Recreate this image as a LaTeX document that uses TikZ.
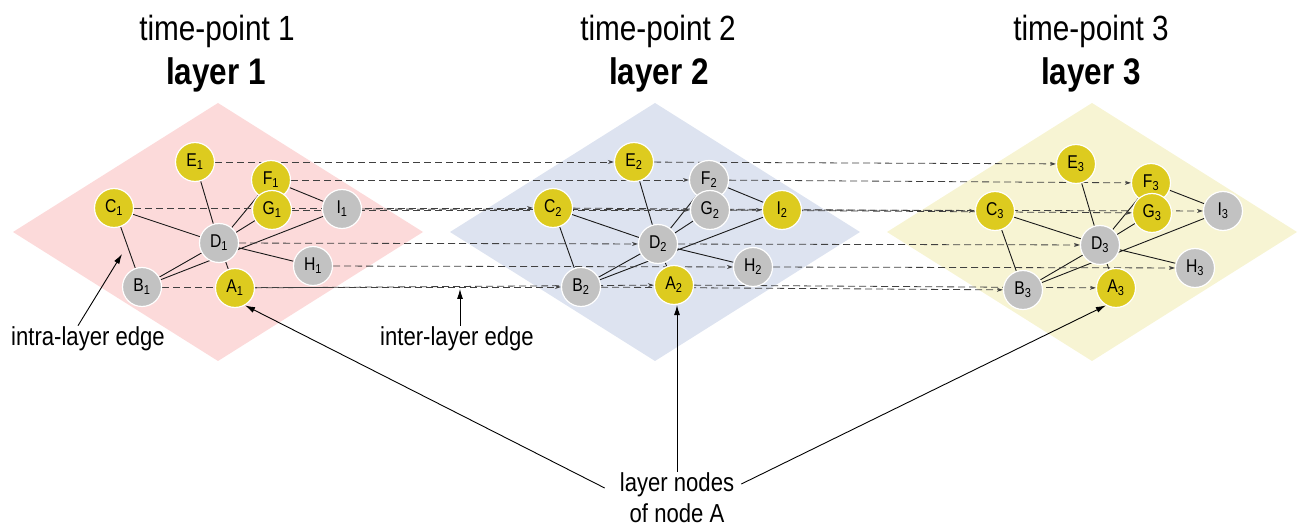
\documentclass[tikz,border=0pt]{standalone}
\usepackage{fontspec}
\setmainfont{Liberation Sans}[FakeStretch=0.85]
\usepackage{tikz}
\usetikzlibrary{arrows.meta}
\definecolor{pinklayer}{HTML}{FCDADA}
\definecolor{bluelayer}{HTML}{DDE3F0}
\definecolor{yellowlayer}{HTML}{F7F4D3}
\definecolor{nodeyellow}{HTML}{DDCB1F}
\definecolor{nodegray}{HTML}{C2C2C2}
\pgfdeclarelayer{background}
\pgfdeclarelayer{edges}
\pgfsetlayers{background,edges,main}

\begin{document}
\begin{tikzpicture}[x=1pt,y=-1pt,
    yellownode/.style={circle,fill=nodeyellow,draw=white,line width=1.2pt,minimum size=39pt,inner sep=0pt,font=\fontsize{18.5}{18}\selectfont},
    graynode/.style={yellownode,fill=nodegray},
    intra/.style={line width=0.9pt,black!90},
    inter/.style={line width=0.8pt,black!75,dash pattern=on 7pt off 4pt,-{Stealth[length=6pt,width=4pt]}},
    annot/.style={line width=0.9pt,black,-{Latex[length=10pt,width=6pt]}},
    notetext/.style={inner sep=1pt,font=\fontsize{26}{31}\selectfont,align=center}]
      \useasboundingbox (0,0) rectangle (1298,526);
      \node[font=\fontsize{35}{40}\selectfont] (time1) at (217,31) {time-point 1};
      \node[font=\bfseries\fontsize{37}{40}\selectfont] (layer1) at (216,75) {layer 1};
      \node[font=\fontsize{35}{40}\selectfont] (time2) at (658,31) {time-point 2};
      \node[font=\bfseries\fontsize{37}{40}\selectfont] (layer2) at (659,75) {layer 2};
      \node[font=\fontsize{35}{40}\selectfont] (time3) at (1091,31) {time-point 3};
      \node[font=\bfseries\fontsize{37}{40}\selectfont] (layer3) at (1091,75) {layer 3};
      \begin{pgfonlayer}{background}
      \fill[pinklayer] (218,103) -- (423,232) -- (218,361) -- (13,232) -- cycle;
      \fill[bluelayer] (655,103) -- (860,232) -- (655,361) -- (450,232) -- cycle;
      \fill[yellowlayer] (1092,103) -- (1297,232) -- (1092,361) -- (887,232) -- cycle;
      \end{pgfonlayer}
      \node[yellownode] (E1) at (195,162) {E\textsubscript{1}};
      \node[yellownode] (F1) at (271,180) {F\textsubscript{1}};
      \node[yellownode] (G1) at (272,210) {G\textsubscript{1}};
      \node[graynode] (I1) at (342,209) {I\textsubscript{1}};
      \node[yellownode] (C1) at (114,208) {C\textsubscript{1}};
      \node[graynode] (D1) at (219,243) {D\textsubscript{1}};
      \node[graynode] (H1) at (313,266) {H\textsubscript{1}};
      \node[graynode] (B1) at (142,287) {B\textsubscript{1}};
      \node[yellownode] (A1) at (235,288) {A\textsubscript{1}};
      \node[yellownode] (E2) at (634,162) {E\textsubscript{2}};
      \node[graynode] (F2) at (709,180) {F\textsubscript{2}};
      \node[graynode] (G2) at (710,210) {G\textsubscript{2}};
      \node[yellownode] (I2) at (782,210) {I\textsubscript{2}};
      \node[yellownode] (C2) at (553,208) {C\textsubscript{2}};
      \node[graynode] (D2) at (658,244) {D\textsubscript{2}};
      \node[graynode] (H2) at (753,267) {H\textsubscript{2}};
      \node[graynode] (B2) at (581,287) {B\textsubscript{2}};
      \node[yellownode] (A2) at (674,285) {A\textsubscript{2}};
      \node[yellownode] (E3) at (1076,164) {E\textsubscript{3}};
      \node[yellownode] (F3) at (1151,183) {F\textsubscript{3}};
      \node[yellownode] (G3) at (1152,213) {G\textsubscript{3}};
      \node[graynode] (I3) at (1223,211) {I\textsubscript{3}};
      \node[yellownode] (C3) at (995,211) {C\textsubscript{3}};
      \node[graynode] (D3) at (1100,245) {D\textsubscript{3}};
      \node[graynode] (H3) at (1195,268) {H\textsubscript{3}};
      \node[graynode] (B3) at (1023,290) {B\textsubscript{3}};
      \node[yellownode] (A3) at (1116,288) {A\textsubscript{3}};
      \begin{pgfonlayer}{edges}
      \draw[intra] (C1) -- (B1) (C1) -- (D1) (E1) -- (D1) (F1) -- (D1) (G1) -- (D1) (F1) -- (I1) (I1) -- (B1) (D1) -- (B1) (D1) -- (H1) (D1) -- (A1);
      \draw[intra] (C2) -- (B2) (C2) -- (D2) (E2) -- (D2) (F2) -- (D2) (G2) -- (D2) (F2) -- (I2) (I2) -- (B2) (D2) -- (B2) (D2) -- (H2) (D2) -- (A2);
      \draw[intra] (C3) -- (B3) (C3) -- (D3) (E3) -- (D3) (F3) -- (D3) (G3) -- (D3) (F3) -- (I3) (I3) -- (B3) (D3) -- (B3) (D3) -- (H3) (D3) -- (A3);
      \draw[inter] (E1) edge (E2) (F1) edge (F2) (G1) edge (G2) (I1) edge (I2) (C1) edge (C2) (D1) edge (D2) (H1) edge (H2) (B1) edge (B2) (A1) edge (A2);
      \draw[inter] (E2) edge (E3) (F2) edge (F3) (G2) edge (G3) (I2) edge (I3) (C2) edge (C3) (D2) edge (D3) (H2) edge (H3) (B2) edge (B3) (A2) edge (A3);
      \end{pgfonlayer}
      \node[notetext] (intraLbl) at (88,339) {intra-layer edge};
      \node[notetext] (interLbl) at (457,339) {inter-layer edge};
      \node[notetext] (nodeA) at (677,498) {layer nodes\\of node A};
      \coordinate (intraTip) at (122,254);
      \coordinate (interTip) at (460,289);
      \draw[annot] ([xshift=-10pt]intraLbl.north) -- (intraTip);
      \draw[annot] (interLbl.north -| interTip) -- (interTip);
      \draw[annot] ([xshift=-14pt,yshift=10pt]nodeA.west) -- (A1.-60);
      \draw[annot] (nodeA.north) -- (nodeA.north |- A2.south);
      \draw[annot] ([xshift=6pt,yshift=14pt]nodeA.east) -- (A3.-120);
    \end{tikzpicture}
\end{document}
